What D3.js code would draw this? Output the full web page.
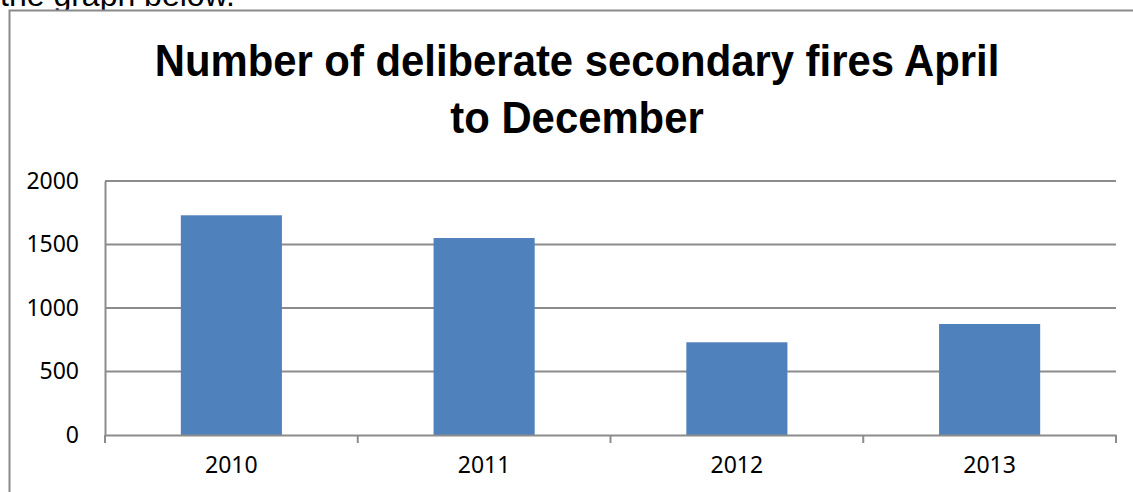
<!DOCTYPE html>
<html>
<head>
<meta charset="utf-8">
<script src="https://cdn.jsdelivr.net/npm/d3@7"></script>
<style>
  html, body { margin: 0; padding: 0; background: #fff; overflow: hidden; }
  svg { display: block; }
</style>
</head>
<body>
<script>
const categories = ["2010", "2011", "2012", "2013"];
const values = [1730, 1551, 730, 874];
const yTicks = [0, 500, 1000, 1500, 2000];
const titleLines = ["Number of deliberate secondary fires April", "to December"];
const introText = "the graph below.";

const W = 1133, H = 492;
const svg = d3.select("body").append("svg").attr("width", W).attr("height", H);

// intro text cut at top
svg.append("text")
  .attr("x", 0).attr("y", 6)
  .attr("font-family", "Liberation Sans, Arial, sans-serif")
  .attr("font-size", 32)
  .attr("fill", "#000")
  .text(introText);

// chart border
svg.append("rect")
  .attr("x", 9.5).attr("y", 10.5)
  .attr("width", 1200).attr("height", 600)
  .attr("fill", "#fff")
  .attr("stroke", "#8a8a8a").attr("stroke-width", 2);

// title
const titleBase = [76, 133];
const titleNodes = titleLines.map((t, i) => svg.append("text")
    .attr("text-anchor", "middle")
    .attr("font-family", "Liberation Sans Narrow, Arial Narrow, Liberation Sans, sans-serif")
    .attr("font-weight", "bold")
    .attr("font-size", 45)
    .attr("fill", "#000")
    .text(t));
const natural = titleNodes[0].node().getComputedTextLength();
const sx = 845 / natural;
titleNodes.forEach((n, i) => n.attr("transform", `translate(577,${titleBase[i]}) scale(${sx},1)`));

const plot = { left: 105, right: 1116, top: 181, bottom: 435 };

const x = d3.scaleBand().domain(categories)
  .range([plot.left, plot.right]).paddingInner(0.6).paddingOuter(0.3);
const y = d3.scaleLinear().domain([0, 2000]).range([plot.bottom, plot.top]);

// gridlines
svg.append("g").selectAll("line").data(yTicks.filter(d => d > 0)).join("line")
  .attr("x1", plot.left).attr("x2", plot.right)
  .attr("y1", d => y(d)).attr("y2", d => y(d))
  .attr("stroke", "#8c8c8c").attr("stroke-width", 2);

// bars
svg.append("g").selectAll("rect").data(values).join("rect")
  .attr("x", (d, i) => x(categories[i]))
  .attr("y", d => y(d))
  .attr("width", x.bandwidth())
  .attr("height", d => y(0) - y(d))
  .attr("fill", "#4f81bd");

// y axis
const yAxis = svg.append("g").attr("transform", `translate(${plot.left},0)`)
  .call(d3.axisLeft(y).tickValues(yTicks).tickFormat(d3.format("d")).tickSize(0).tickPadding(26));
yAxis.select(".domain").attr("stroke", "#8c8c8c").attr("stroke-width", 2);
yAxis.selectAll("text")
  .attr("font-family", "Noto Sans, sans-serif").attr("font-size", 23).attr("fill", "#000");

// x axis
const step = x.step();
const boundaries = d3.range(categories.length + 1).map(i => plot.left + i * step);
const xAxis = svg.append("g").attr("transform", `translate(0,${plot.bottom})`)
  .call(d3.axisBottom(x).tickSize(0).tickPadding(22));
xAxis.select(".domain").attr("stroke", "#8c8c8c").attr("stroke-width", 2);
xAxis.selectAll("text")
  .attr("font-family", "Noto Sans, sans-serif").attr("font-size", 23).attr("fill", "#000");
svg.append("g").selectAll("line").data(boundaries).join("line")
  .attr("x1", d => d).attr("x2", d => d)
  .attr("y1", plot.bottom).attr("y2", plot.bottom + 8)
  .attr("stroke", "#8c8c8c").attr("stroke-width", 2);
</script>
</body>
</html>
